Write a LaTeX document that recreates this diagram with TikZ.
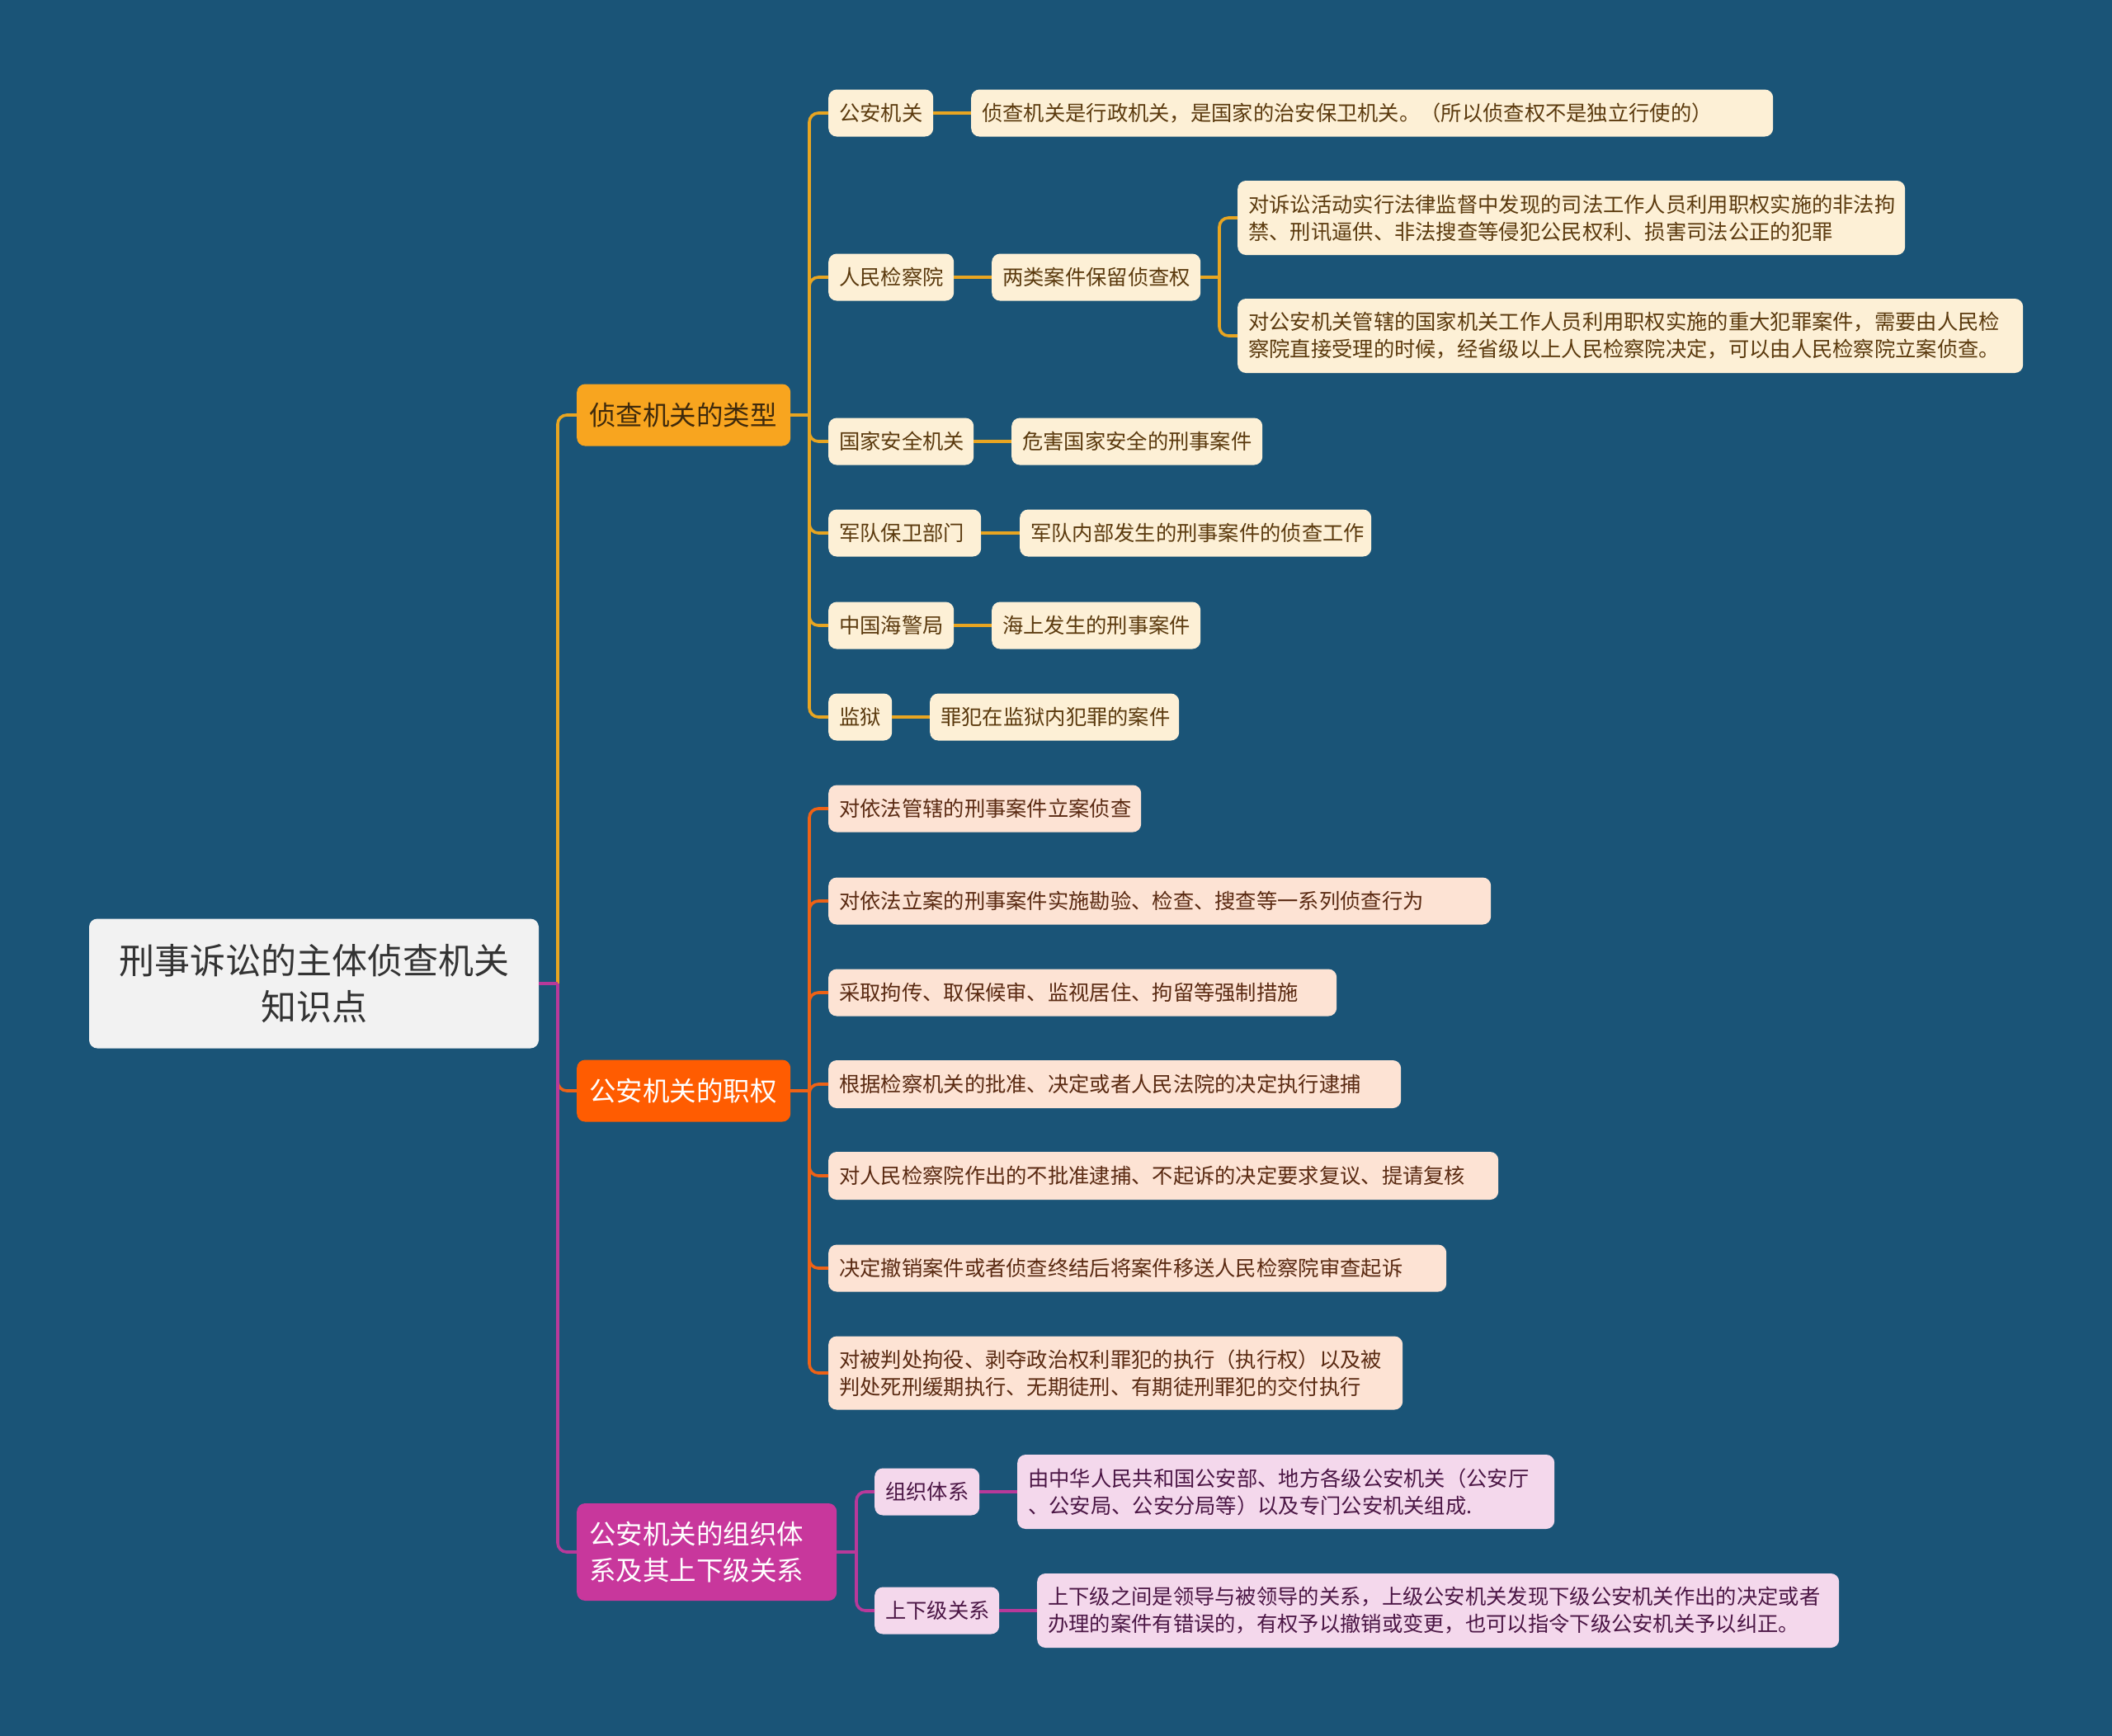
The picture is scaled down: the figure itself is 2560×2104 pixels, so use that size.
\documentclass[tikz,border=0pt]{standalone}
\usepackage{fontspec}
\setmainfont{Noto Sans CJK SC}
\definecolor{bg}{HTML}{1A5477}
\definecolor{rootfill}{HTML}{F2F2F2}
\definecolor{roottext}{HTML}{333333}
\definecolor{orgA}{HTML}{F8A51F}
\definecolor{lineA}{HTML}{E8A521}
\definecolor{orgB}{HTML}{FF5C01}
\definecolor{lineB}{HTML}{EE6216}
\definecolor{orgC}{HTML}{C8379C}
\definecolor{lineC}{HTML}{B8399A}
\definecolor{creamfill}{HTML}{FDF0D6}
\definecolor{creamtext}{HTML}{5B3A0E}
\definecolor{peachfill}{HTML}{FDE3D4}
\definecolor{peachtext}{HTML}{5A2A12}
\definecolor{pinkfill}{HTML}{F4D8EC}
\definecolor{pinktext}{HTML}{4B1645}
\definecolor{darkA}{HTML}{3F2A0C}
\newcommand\fsmall{\fontsize{25.3pt}{33pt}\selectfont}
\newcommand\fmid{\fontsize{32.5pt}{44pt}\selectfont}
\newcommand\fbig{\fontsize{43pt}{55.5pt}\selectfont}
\begin{document}
\begin{tikzpicture}[x=1pt,y=-1pt,
  basebox/.style={rectangle, rounded corners=10pt, anchor=west, align=left, inner ysep=0pt},
  leafbox/.style={basebox, inner xsep=13pt, font=\fsmall},
  cream/.style={leafbox, fill=creamfill, text=creamtext},
  peach/.style={leafbox, fill=peachfill, text=peachtext},
  pink/.style={leafbox, fill=pinkfill, text=pinktext},
  mainbox/.style={basebox, inner xsep=15pt, font=\fmid},
  wireA/.style={draw=lineA, line width=3.6pt},
  wireB/.style={draw=lineB, line width=3.6pt},
  wireC/.style={draw=lineC, line width=3.6pt},
  rbend/.style={rounded corners=11pt}
]
\fill[bg] (0,0) rectangle (2560,2104);
\useasboundingbox (0,0) rectangle (2560,2104);

% root
\node[rectangle, rounded corners=10pt, fill=rootfill, text=roottext, font=\fbig, align=center,
  minimum width=545pt, minimum height=157pt, text width=520pt, inner sep=0pt] (root) at (380.5,1192) {刑事诉讼的主体侦查机关\\知识点};

% level 1
\node[mainbox, fill=orgA, text=darkA, text width=229pt, minimum height=75pt] (A) at (699,503) {侦查机关的类型};
\node[mainbox, fill=orgB, text=white, text width=229pt, minimum height=75pt] (B) at (699,1322) {公安机关的职权};
\node[mainbox, fill=orgC, text=white, text width=285pt, minimum height=118pt] (C) at (699,1881) {公安机关的组织体\\系及其上下级关系};

% branch A children
\node[cream, text width=101pt, minimum height=57pt] (a1) at (1004,137) {公安机关};
\node[cream, text width=946pt, minimum height=57pt] (a1l) at (1177,137) {侦查机关是行政机关，是国家的治安保卫机关。（所以侦查权不是独立行使的）};
\node[cream, text width=126pt, minimum height=57pt] (a2) at (1004,336) {人民检察院};
\node[cream, text width=227pt, minimum height=57pt] (a2m) at (1202,336) {两类案件保留侦查权};
\node[cream, text width=783pt, minimum height=90pt] (a2x) at (1500,264) {对诉讼活动实行法律监督中发现的司法工作人员利用职权实施的非法拘\\禁、刑讯逼供、非法搜查等侵犯公民权利、损害司法公正的犯罪};
\node[cream, text width=926pt, minimum height=90pt] (a2y) at (1500,407) {对公安机关管辖的国家机关工作人员利用职权实施的重大犯罪案件，需要由人民检\\察院直接受理的时候，经省级以上人民检察院决定，可以由人民检察院立案侦查。};
\node[cream, text width=150pt, minimum height=57pt] (a3) at (1004,535) {国家安全机关};
\node[cream, text width=278pt, minimum height=57pt] (a3l) at (1226,535) {危害国家安全的刑事案件};
\node[cream, text width=159pt, minimum height=57pt] (a4) at (1004,646) {军队保卫部门};
\node[cream, text width=400pt, minimum height=57pt] (a4l) at (1236,646) {军队内部发生的刑事案件的侦查工作};
\node[cream, text width=126pt, minimum height=57pt] (a5) at (1004,758) {中国海警局};
\node[cream, text width=227pt, minimum height=57pt] (a5l) at (1202,758) {海上发生的刑事案件};
\node[cream, text width=51pt, minimum height=57pt] (a6) at (1004,869) {监狱};
\node[cream, text width=276pt, minimum height=57pt] (a6l) at (1127,869) {罪犯在监狱内犯罪的案件};

% branch B children
\node[peach, text width=353pt, minimum height=57pt] (b1) at (1004,980) {对依法管辖的刑事案件立案侦查};
\node[peach, text width=777pt, minimum height=57pt] (b2) at (1004,1092) {对依法立案的刑事案件实施勘验、检查、搜查等一系列侦查行为};
\node[peach, text width=590pt, minimum height=57pt] (b3) at (1004,1203) {采取拘传、取保候审、监视居住、拘留等强制措施};
\node[peach, text width=668pt, minimum height=58pt] (b4) at (1004,1314) {根据检察机关的批准、决定或者人民法院的决定执行逮捕};
\node[peach, text width=786pt, minimum height=58pt] (b5) at (1004,1425) {对人民检察院作出的不批准逮捕、不起诉的决定要求复议、提请复核};
\node[peach, text width=723pt, minimum height=57pt] (b6) at (1004,1537) {决定撤销案件或者侦查终结后将案件移送人民检察院审查起诉};
\node[peach, text width=670pt, minimum height=89pt] (b7) at (1004,1664) {对被判处拘役、剥夺政治权利罪犯的执行（执行权）以及被\\判处死刑缓期执行、无期徒刑、有期徒刑罪犯的交付执行};

% branch C children
\node[pink, text width=101pt, minimum height=57pt] (c1) at (1060,1808) {组织体系};
\node[pink, text width=625pt, minimum height=90pt] (c1l) at (1233,1808) {由中华人民共和国公安部、地方各级公安机关（公安厅\\、公安局、公安分局等）以及专门公安机关组成.};
\node[pink, text width=125pt, minimum height=57pt] (c2) at (1060,1952) {上下级关系};
\node[pink, text width=946pt, minimum height=90pt] (c2l) at (1257,1952) {上下级之间是领导与被领导的关系，上级公安机关发现下级公安机关作出的决定或者\\办理的案件有错误的，有权予以撤销或变更，也可以指令下级公安机关予以纠正。};

% bus coordinates
\coordinate (rb) at (676,1192);
\coordinate (ab) at (981,503);
\coordinate (a2b) at (1478,336);
\coordinate (bb) at (981,1322);
\coordinate (cb) at (1038,1881);

% root connectors
\draw[wireA, rbend] (rb) |- (A.west);
\draw[wireB, rbend] (rb) |- (B.west);
\draw[wireC, rbend] (rb) |- (C.west);
\draw[wireC] (root.east) -- (rb);

% branch A wires
\draw[wireA] (A.east) -- (ab);
\foreach \n in {a1,a2,a3,a4,a5,a6} { \draw[wireA, rbend] (ab) |- (\n.west); }
\draw[wireA] (a1.east) -- (a1l.west);
\draw[wireA] (a2.east) -- (a2m.west);
\draw[wireA] (a2m.east) -- (a2b);
\draw[wireA, rbend] (a2b) |- (a2x.west);
\draw[wireA, rbend] (a2b) |- (a2y.west);
\draw[wireA] (a3.east) -- (a3l.west);
\draw[wireA] (a4.east) -- (a4l.west);
\draw[wireA] (a5.east) -- (a5l.west);
\draw[wireA] (a6.east) -- (a6l.west);

% branch B wires
\draw[wireB] (B.east) -- (bb);
\foreach \n in {b1,b2,b3,b4,b5,b6,b7} { \draw[wireB, rbend] (bb) |- (\n.west); }

% branch C wires
\draw[wireC] (C.east) -- (cb);
\draw[wireC, rbend] (cb) |- (c1.west);
\draw[wireC, rbend] (cb) |- (c2.west);
\draw[wireC] (c1.east) -- (c1l.west);
\draw[wireC] (c2.east) -- (c2l.west);
\end{tikzpicture}
\end{document}
